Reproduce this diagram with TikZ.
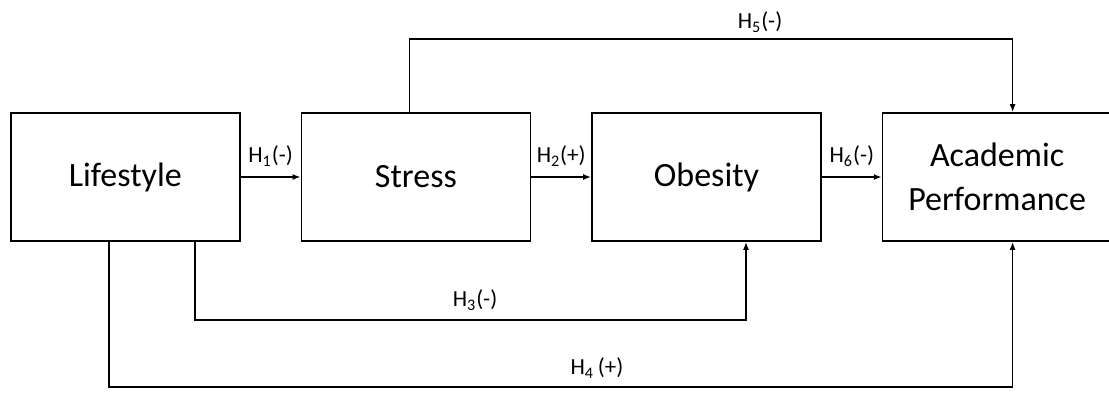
\documentclass[tikz,border=0pt]{standalone}
\usepackage{fontspec}
\setmainfont{Carlito}
\usetikzlibrary{arrows.meta,positioning}

\tikzset{
	box/.style={draw, line width=0.8pt, minimum width=114.5pt, minimum height=64pt, inner sep=2pt, align=center, font=\fontsize{17}{22}\selectfont},
	link/.style={line width=0.8pt, -{Latex[length=4pt,width=3pt]}},
	hyp/.style={inner sep=1pt, font=\fontsize{11.5}{13}\selectfont}
}

\begin{document}
\begin{tikzpicture}[x=0.5pt,y=-0.5pt]
	\useasboundingbox (0,0) rectangle (1109,392);
	% variables
	\node[box, anchor=west] (life) at (10,177) {Lifestyle};
	\node[box, right=30pt of life] (stress) {Stress};
	\node[box, right=30pt of stress] (obes) {Obesity};
	\node[box, right=30pt of obes] (acad) {Academic\\Performance};
	% direct paths
	\draw[link] (life) -- node[hyp, above=4pt] (h1) {H\textsubscript{1}(-)} (stress);
	\draw[link] (stress) -- node[hyp, above=4pt] (h2) {H\textsubscript{2}(+)} (obes);
	\draw[link] (obes) -- node[hyp, above=4pt] (h6) {H\textsubscript{6}(-)} (acad);
	% paths that skip a box
	\draw[link] ([xshift=-3.25pt]stress.north) -- ++(0,-73) -| ([xshift=7.75pt]acad.north);
	\draw[link] ([xshift=34.75pt]life.south) -- ++(0,78) -| ([xshift=19.75pt]obes.south);
	\draw[link] ([xshift=-8.25pt]life.south) -- ++(0,145) -| ([xshift=7.75pt]acad.south);
	\node[hyp] (h5) at (760,22) {H\textsubscript{5}(-)};
	\node[hyp] (h3) at (475,300) {H\textsubscript{3}(-)};
	\node[hyp] (h4) at (597,368) {H\textsubscript{4}\,(+)};
\end{tikzpicture}
\end{document}
